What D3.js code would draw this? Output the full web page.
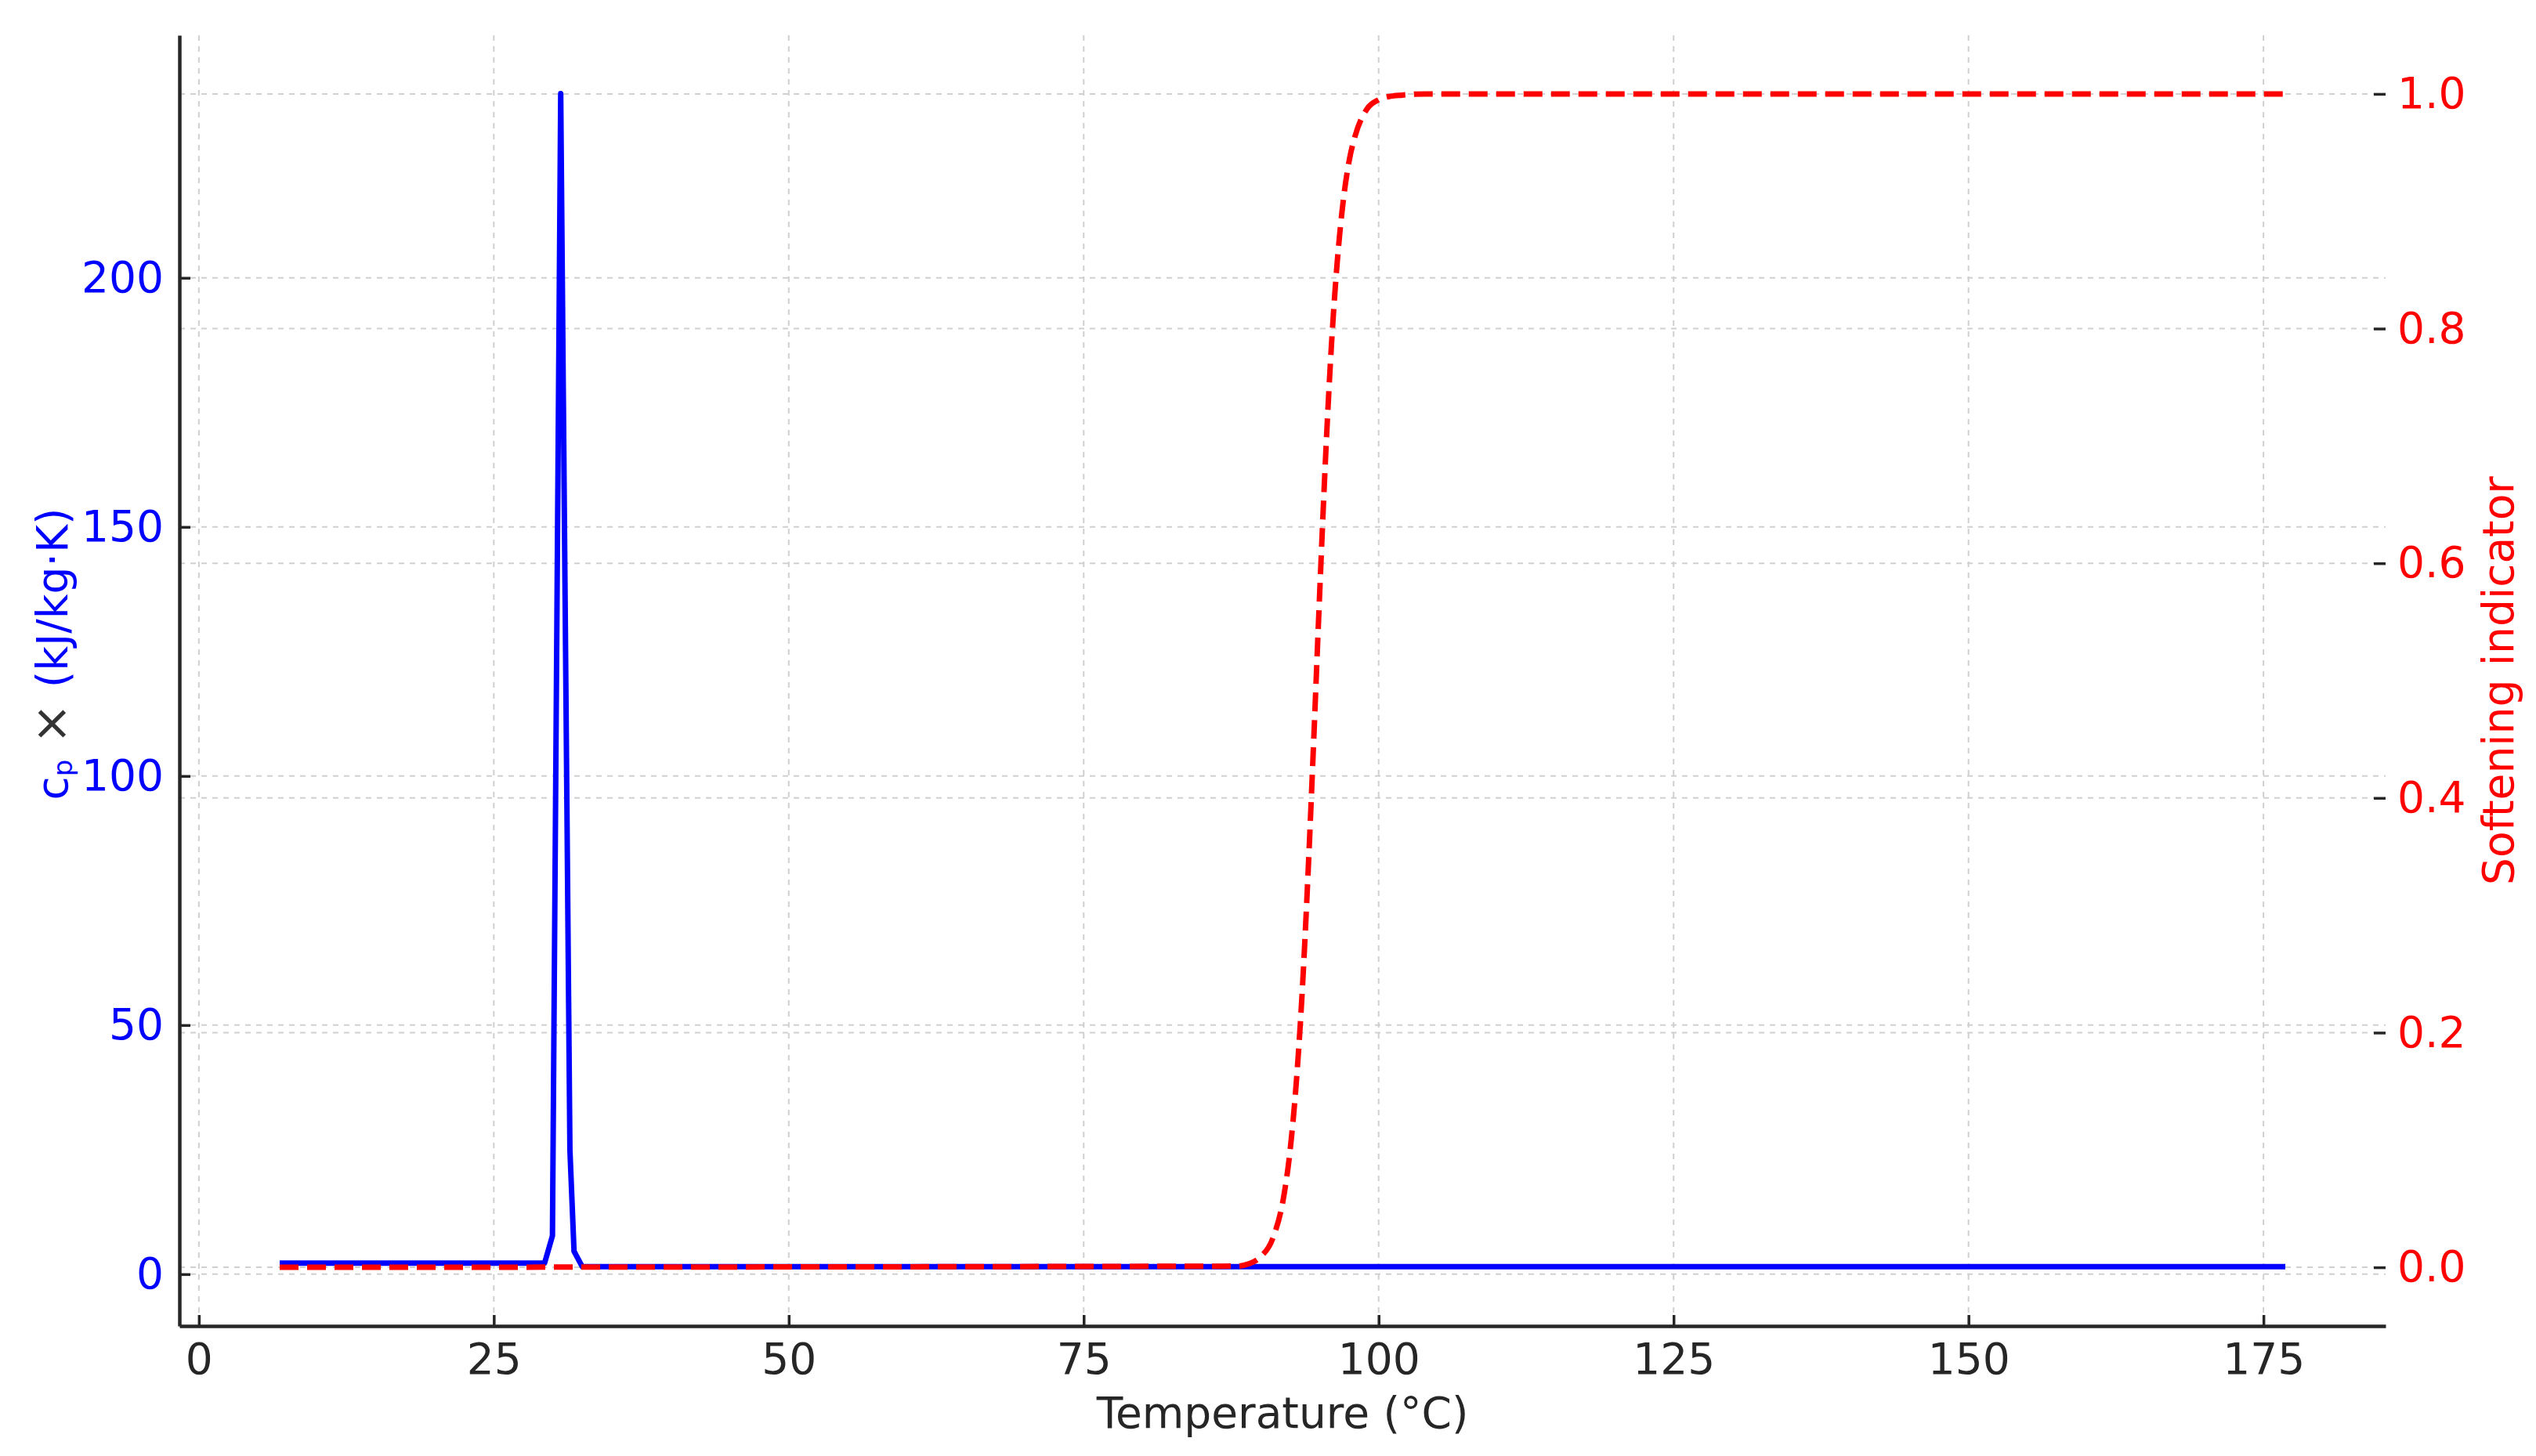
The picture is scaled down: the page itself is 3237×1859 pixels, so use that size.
<!DOCTYPE html>
<html>
<head>
<meta charset="utf-8">
<script src="https://cdn.jsdelivr.net/npm/d3@7/dist/d3.min.js"></script>
<style>
body { margin: 0; background: #fff; }
text { font-family: "DejaVu Sans", sans-serif; }
</style>
</head>
<body>
<div id="chart"></div>
<script>
// heat capacity curve (blue, left axis)
var cpTemps = [6.85, 29.3, 29.97, 30.67, 31.45, 31.8, 32.5, 176.85];
var cpValues = [2.2, 2.2, 7.7, 237, 25, 4.6, 1.5, 1.5];

// softening indicator (red dashed, right axis)
var softTemps = [6.85, 88, 89, 90, 91, 92, 92.5, 93, 93.5, 94, 94.5, 95, 95.5, 96, 96.5, 97, 97.5, 98, 99, 100, 101, 102, 104, 176.85];
var softValues = [0, 0.001, 0.003, 0.009, 0.024, 0.063, 0.1, 0.155, 0.231, 0.332, 0.45, 0.574, 0.69, 0.786, 0.858, 0.909, 0.943, 0.964, 0.987, 0.995, 0.998, 0.999, 1.0, 1.0];

var xTicks = [0, 25, 50, 75, 100, 125, 150, 175];
var cpTicks = [0, 50, 100, 150, 200];
var softTicks = [0, 0.2, 0.4, 0.6, 0.8, 1.0];

var width = 3237, height = 1859;
var margin = {top: 45, right: 192, bottom: 166, left: 229};
var plotW = width - margin.left - margin.right,
    plotH = height - margin.top - margin.bottom;

var blue = "#0000ff", red = "#ff0000", dark = "#262626";

var svg = d3.select("#chart").append("svg")
    .attr("width", width)
    .attr("height", height)
    .style("background", "#fff");

var g = svg.append("g")
    .attr("transform", "translate(" + margin.left + "," + margin.top + ")");

var x = d3.scaleLinear().domain([-1.65, 185.35]).range([0, plotW]);
var yCp = d3.scaleLinear().domain([-10.4, 248.7]).range([plotH, 0]);
var ySoft = d3.scaleLinear().domain([-0.05, 1.05]).range([plotH, 0]);

// grid
var grid = g.append("g").attr("class", "grid")
    .attr("stroke", "#d0d0d0")
    .attr("stroke-width", 2)
    .attr("stroke-dasharray", "7,7");
grid.selectAll(".vx").data(xTicks).enter().append("line")
    .attr("x1", d => x(d)).attr("x2", d => x(d))
    .attr("y1", 0).attr("y2", plotH);
grid.selectAll(".hcp").data(cpTicks).enter().append("line")
    .attr("x1", 0).attr("x2", plotW)
    .attr("y1", d => yCp(d)).attr("y2", d => yCp(d));
grid.selectAll(".hs").data(softTicks).enter().append("line")
    .attr("x1", 0).attr("x2", plotW)
    .attr("y1", d => ySoft(d)).attr("y2", d => ySoft(d));

// axes
var xAxis = d3.axisBottom(x).tickValues(xTicks)
    .tickSizeInner(-14).tickSizeOuter(0).tickPadding(22);
var leftAxis = d3.axisLeft(yCp).tickValues(cpTicks)
    .tickSizeInner(-14).tickSizeOuter(0).tickPadding(20);
var rightAxis = d3.axisRight(ySoft).tickValues(softTicks)
    .tickFormat(d3.format(".1f"))
    .tickSizeInner(-15).tickSizeOuter(0).tickPadding(15);

var gx = g.append("g").attr("transform", "translate(0," + plotH + ")").call(xAxis);
var gl = g.append("g").call(leftAxis);
var gr = g.append("g").attr("transform", "translate(" + plotW + ",0)").call(rightAxis);
gr.select(".domain").remove();

[gx, gl, gr].forEach(function (a) {
    a.select(".domain").attr("stroke", dark).attr("stroke-width", 4.5);
    a.selectAll(".tick line").attr("stroke", dark).attr("stroke-width", 3.5);
    a.selectAll(".tick text").style("font-size", "55px").style("font-family", "DejaVu Sans");
});
gx.selectAll(".tick text").attr("fill", dark);
gl.selectAll(".tick text").attr("fill", blue);
gr.selectAll(".tick text").attr("fill", red);

// lines
var cpLine = d3.line()
    .x((d, i) => x(cpTemps[i]))
    .y(d => yCp(d));
g.append("path")
    .attr("d", cpLine(cpValues))
    .attr("fill", "none")
    .attr("stroke", blue)
    .attr("stroke-width", 7)
    .attr("stroke-linejoin", "round");

var softLine = d3.line()
    .x((d, i) => x(softTemps[i]))
    .y(d => ySoft(d))
    .curve(d3.curveMonotoneX);
g.append("path")
    .attr("d", softLine(softValues))
    .attr("fill", "none")
    .attr("stroke", red)
    .attr("stroke-width", 7)
    .attr("stroke-dasharray", "24,11");

// axis labels
svg.append("text")
    .attr("x", margin.left + plotW / 2)
    .attr("y", 1823)
    .attr("text-anchor", "middle")
    .attr("fill", dark)
    .style("font-size", "55px")
    .text("Temperature (°C)");

var yl = svg.append("text")
    .attr("transform", "translate(86,835) rotate(-90)")
    .attr("text-anchor", "middle")
    .attr("fill", blue)
    .style("font-size", "55px");
yl.append("tspan").text("c");
yl.append("tspan").attr("font-size", "34px").attr("dy", 6).text("p");
yl.append("tspan").attr("fill", "#333").attr("font-size", "62px").attr("dy", -6).text(" × ");
yl.append("tspan").text("(kJ/kg·K)");

svg.append("text")
    .attr("transform", "translate(3208," + (margin.top + plotH / 2) + ") rotate(-90)")
    .attr("text-anchor", "middle")
    .attr("fill", red)
    .style("font-size", "55px")
    .text("Softening indicator");
</script>
</body>
</html>
